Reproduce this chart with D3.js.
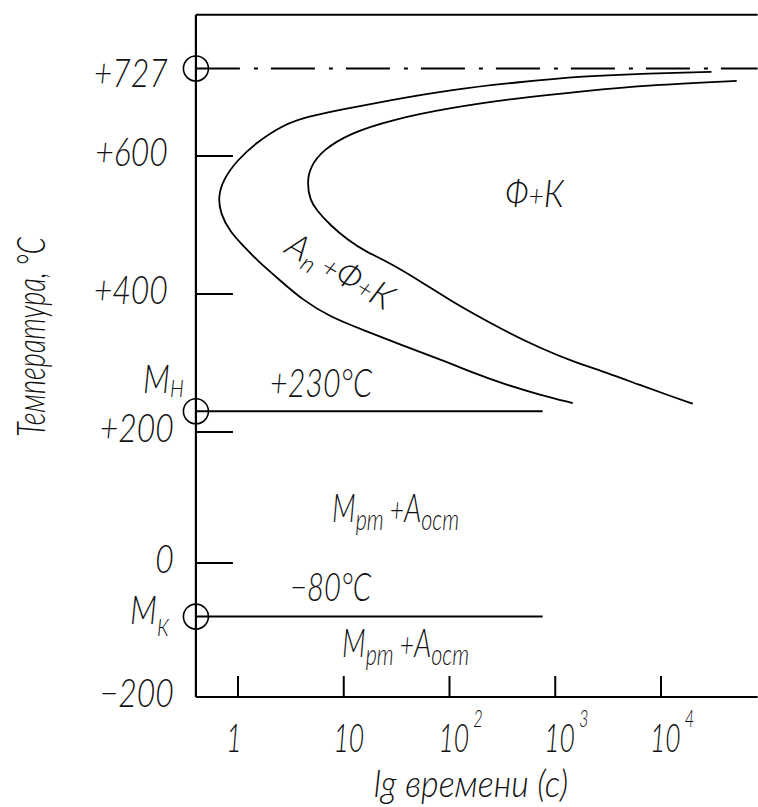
<!DOCTYPE html>
<html><head><meta charset="utf-8">
<script src="https://cdn.jsdelivr.net/npm/d3@7"></script>
<style>
html,body{margin:0;padding:0;background:#fff;}
svg{display:block;}
text{font-family:"Lato","DejaVu Sans",sans-serif;font-style:italic;font-weight:300;fill:#111;}
</style></head><body>
<svg id="chart" width="758" height="807"></svg>
<script>
// ---------- data ----------
const timeTicks = [1, 10, 100, 1000, 10000];
const timeTickBase = ["1", "10", "10", "10", "10"];
const timeTickExp = ["", "", "2", "3", "4"];
const tempTicks = [600, 400, 200, 0];
const tempLabelValues = [727, 600, 400, 200, 0, -200];
const tempLabels = ["+727", "+600", "+400", "+200", "0", "\u2212200"];
const tempRange = [-200, 805];
const timeRange = [0.4, 82000];
const criticalPoints = [727, 230, -80];        // A1, Mн, Mк
const isoLines = [230, -80];                    // Mн, Mк
const isoLineEnd = 760;                         // s
// start of transformation (left C-curve): [time s, temperature °C]
const startCurve = [[30000,722],[7800,720],[1820,716],[434,707],[100,696],[27.4,681],[9.2,667],[4.5,657],[2.66,645],[1.51,620],[0.98,594],[0.72,565],[0.65,541],[0.68,517],[0.84,490],[1.15,468],[1.51,449],[2.49,420],[4.11,391],[7.41,367],[15.2,348],[39.5,323],[100,300],[166,286],[349,268],[714,254],[1466,242]];
// end of transformation (right C-curve)
const finishCurve = [[52000,709],[7800,703],[1820,694],[434,684],[101,670],[27.4,652],[11.5,633],[6.35,609],[4.8,584],[4.5,561],[4.8,536],[5.5,522],[7.4,500],[11,478],[15.9,462],[27.4,445],[56,416],[101,391],[166,372],[349,345],[714,322],[1466,302],[3080,286],[6310,268],[12900,251],[20000,241]];

// ---------- scales ----------
const svg = d3.select("#chart");
const x = d3.scaleLog().domain([1, 1e4]).range([238, 661]);
const y = d3.scaleLinear().domain([-200, 0, 200, 400, 600, 727]).range([697, 563, 432, 294, 156, 68.5]);

const x0 = x(timeRange[0]), x1 = x(timeRange[1]);
const yBot = y(tempRange[0]), yTop = y(tempRange[1]);
const ink = "#000";

// frame / axes
svg.append("line").attr("x1", x0).attr("x2", x1).attr("y1", yTop).attr("y2", yTop).attr("stroke", ink).attr("stroke-width", 2);
svg.append("line").attr("x1", x0).attr("x2", x0).attr("y1", yTop).attr("y2", yBot).attr("stroke", ink).attr("stroke-width", 2.2);
svg.append("line").attr("x1", x0).attr("x2", x1).attr("y1", yBot).attr("y2", yBot).attr("stroke", ink).attr("stroke-width", 2.2);

// y ticks
svg.selectAll(".ytick").data(tempTicks).enter().append("line")
  .attr("x1", x0).attr("x2", x0 + 37).attr("y1", d => y(d)).attr("y2", d => y(d))
  .attr("stroke", ink).attr("stroke-width", 2);
// x ticks
svg.selectAll(".xtick").data(timeTicks).enter().append("line")
  .attr("x1", d => x(d)).attr("x2", d => x(d)).attr("y1", yBot).attr("y2", yBot - 21)
  .attr("stroke", ink).attr("stroke-width", 2);

// A1 dash-dot line
svg.append("line").attr("x1", x0).attr("x2", x1).attr("y1", y(727)).attr("y2", y(727))
  .attr("stroke", ink).attr("stroke-width", 2).attr("stroke-dasharray", "44,14,4,13");
// Mн, Mк lines
svg.selectAll(".iso").data(isoLines).enter().append("line")
  .attr("x1", x0).attr("x2", x(isoLineEnd)).attr("y1", d => y(d)).attr("y2", d => y(d))
  .attr("stroke", ink).attr("stroke-width", 2);
// circles
svg.selectAll(".cp").data(criticalPoints).enter().append("circle")
  .attr("cx", x0).attr("cy", d => y(d)).attr("r", 12.5)
  .attr("fill", "none").attr("stroke", ink).attr("stroke-width", 1.6);

// curves
const line = d3.line().x(d => x(d[0])).y(d => y(d[1])).curve(d3.curveBasis);
[startCurve, finishCurve].forEach(c => svg.append("path").attr("d", line(c))
  .attr("fill", "none").attr("stroke", ink).attr("stroke-width", 1.8));

// ---------- text ----------
function label(px, py, parts, o) {
  o = o || {};
  const t = svg.append("text")
    .attr("transform", `translate(${px},${py}) rotate(${o.rotate || 0}) scale(${o.sx || 0.82},1)`)
    .attr("text-anchor", o.anchor || "start").attr("font-size", o.size || 39);
  parts.forEach(p => {
    const s = t.append("tspan").text(p.t);
    if (p.size) s.attr("font-size", p.size);
    if (p.dy) s.attr("dy", p.dy);
    if (p.dx) s.attr("dx", p.dx);
  });
  return t;
}

// y tick labels
tempLabelValues.forEach((v, i) => {
  label(x0 - (v > 200 ? 28 : 22), y(v) + (v === 727 ? 18 : 10), [{t: tempLabels[i]}], {anchor: "end"});
});
// x tick labels
timeTicks.forEach((v, i) => {
  if (timeTickExp[i]) {
    label(x(v) - 11, yBot + 55, [{t: timeTickBase[i]}, {t: timeTickExp[i], size: 24, dy: -25, dx: 6}], {sx: 0.68});
  } else {
    label(x(v) + (v === 1 ? -4 : 5), yBot + 55, [{t: timeTickBase[i]}], {anchor: "middle", sx: 0.68});
  }
});
// axis titles
label(471, 797, [{t: "lg времени (с)"}], {anchor: "middle", sx: 0.92, size: 37});
label(45, 337, [{t: "Температура, °С"}], {anchor: "middle", rotate: -90, sx: 0.7});

// critical point labels
label(143, y(230) - 18, [{t: "М"}, {t: "Н", size: 24, dy: 4}], {});
label(130, y(-80) + 7, [{t: "М"}, {t: "К", size: 24, dy: 12}], {});
label(270, y(230) - 14, [{t: "+230°С"}], {sx: 0.78});
label(290, y(-80) - 16, [{t: "\u221280°С"}], {sx: 0.75});

// region labels
const regionParts = [{t: "М"}, {t: "рт", size: 30, dy: 8}, {t: " +", size: 34, dy: -8}, {t: "А"}, {t: "ост", size: 30, dy: 8}];
label(332, 522, regionParts, {sx: 0.72});
label(342, 657, regionParts, {sx: 0.72});
label(505, 207, [{t: "Ф"}, {t: "+", size: 30}, {t: "К"}], {size: 38, sx: 0.88});
label(283, 252, [{t: "А"}, {t: "п", size: 24, dy: 6}, {t: " +", size: 28, dy: -6}, {t: "Ф"}, {t: "+", size: 26}, {t: "К"}], {size: 35, rotate: 30, sx: 1.0});
</script>
</body></html>
